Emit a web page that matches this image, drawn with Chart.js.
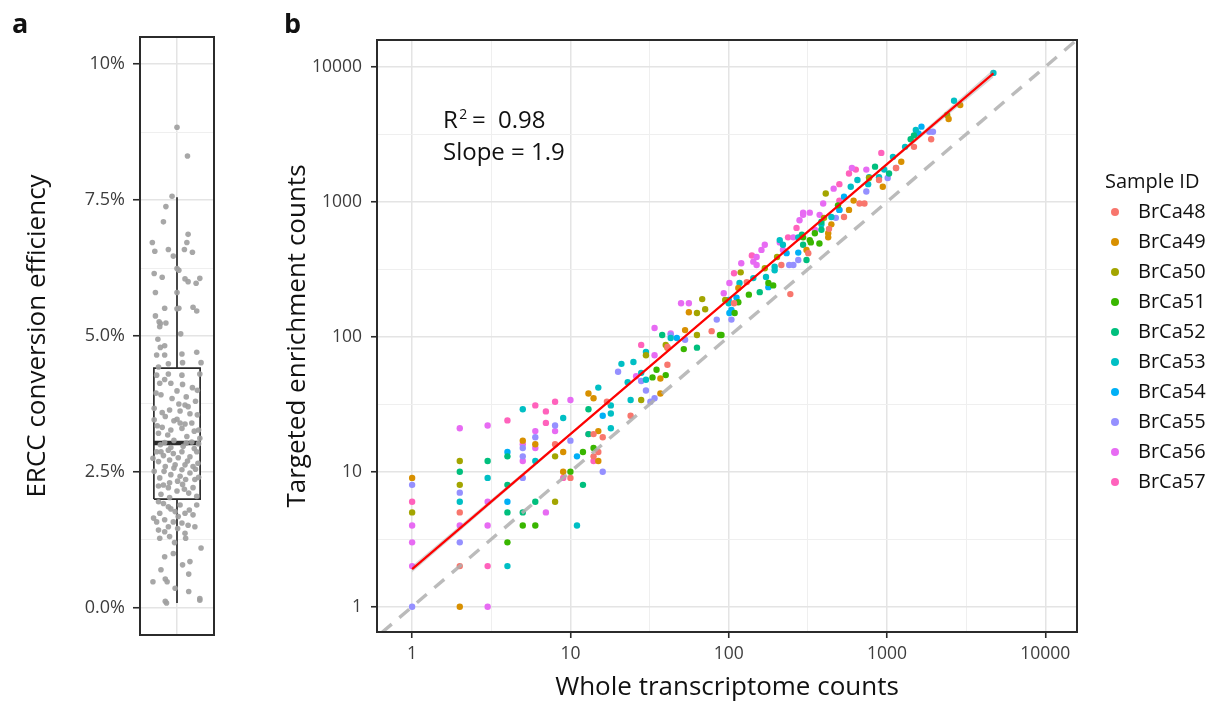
<!DOCTYPE html>
<html>
<head>
<meta charset="utf-8">
<script src="https://cdn.jsdelivr.net/npm/chart.js@4.4.1/dist/chart.umd.min.js"></script>
<style>
  html, body { margin: 0; padding: 0; background: #fff; }
  #wrap { position: relative; width: 1215px; height: 704px; overflow: hidden; }
  #ca { position: absolute; left: 0; top: 0; }
  #cb { position: absolute; left: 230px; top: 0; }
</style>
</head>
<body>
<div id="wrap">
  <canvas id="ca" width="230" height="704"></canvas>
  <canvas id="cb" width="985" height="704"></canvas>
</div>
<script>
// ---------------- panel a: ERCC conversion efficiency ----------------
const effMajorTicks = [0, 2.5, 5, 7.5, 10];
const effMinorTicks = [1.25, 3.75, 6.25, 8.75];
const effTickLabels = ['0.0%', '2.5%', '5.0%', '7.5%', '10%'];
// lower whisker, Q1, median, Q3, upper whisker (percent)
const effBox = [0.09, 2.0, 3.03, 4.41, 7.55];
// per-spike efficiency (percent) and its horizontal jitter
const effPct = [
  8.84, 8.31, 7.57, 7.38, 7.10, 6.87, 6.72, 6.72, 6.56, 6.59, 6.59, 6.54, 6.47, 6.24, 6.21, 6.15,
  6.08, 6.05, 6.00, 5.97, 6.06, 5.80, 5.80, 5.51, 5.50, 5.51, 5.53, 5.46, 5.37, 5.26, 5.23, 5.24,
  5.17, 5.04, 4.94, 4.82, 4.79, 4.65, 4.65, 4.70, 4.67, 4.49, 4.51, 4.51, 4.43,
  4.28, 4.30, 4.28, 4.30, 4.13, 4.13, 4.11, 3.92, 3.99, 3.67, 3.75, 3.73, 3.70, 3.59, 3.52, 3.62,
  3.57, 3.40, 3.46, 3.47, 3.40, 3.38, 3.32, 3.27, 3.27, 3.21, 3.12, 2.75, 2.87, 2.87, 2.90, 2.84,
  2.87, 2.78, 2.87, 3.02, 2.69, 2.60, 2.63, 2.63, 2.60, 2.51, 2.51, 2.45, 2.54, 2.48, 2.39, 2.30,
  2.33, 2.36, 2.36, 2.24, 2.21, 2.27, 2.21, 2.09, 2.15, 2.11,
  4.20, 4.05, 3.85, 3.80, 3.95, 3.64, 3.55, 3.35, 3.30, 3.18, 3.15, 3.08, 3.05, 3.00, 2.97, 2.95,
  2.93, 2.80, 2.76, 2.72, 2.70, 2.66, 2.57, 2.55, 2.42, 2.40, 2.26, 2.18, 2.05, 2.03, 3.03, 3.04,
  3.25, 3.44, 3.88, 4.00,
  1.95, 1.86, 1.89, 1.89, 1.74, 1.77, 1.74, 1.71, 1.58, 1.62, 1.58, 1.56, 1.43, 1.49, 1.46, 1.37,
  1.49, 1.28, 1.31, 1.28, 1.10, 0.94, 1.00, 0.85, 0.79, 0.70, 0.62, 0.48, 0.53, 0.48, 0.36, 0.30,
  0.12, 0.14, 0.09, 0.17, 1.92, 1.80, 1.65, 1.52, 1.68, 1.40, 1.20, 1.82
];
const effJitter = [
  0.00, 0.17, -0.08, -0.18, -0.22, 0.18, -0.40, 0.16, -0.36, -0.14, 0.12, 0.25, -0.06, 0.00, 0.03, -0.37,
  -0.24, 0.13, 0.18, 0.31, 0.37, -0.35, 0.00, -0.20, 0.00, 0.03, 0.26, 0.32, -0.35, -0.29, -0.27, -0.18,
  -0.28, 0.06, -0.31, -0.20, -0.27, -0.33, -0.20, 0.32, 0.08, -0.14, 0.09, 0.39, -0.30,
  -0.33, -0.14, 0.08, 0.37, -0.28, -0.10, 0.09, -0.26, 0.00, -0.37, 0.03, 0.13, 0.18, -0.24, -0.19, 0.05,
  0.21, 0.24, -0.37, 0.00, 0.05, 0.13, -0.24, -0.10, 0.35, -0.30, 0.37, -0.39, -0.33, -0.26, -0.14, -0.06,
  0.08, 0.21, 0.32, 0.35, -0.30, -0.19, -0.03, 0.13, 0.26, -0.37, -0.21, -0.10, 0.08, 0.21, -0.28, -0.12,
  0.01, 0.14, 0.29, -0.30, -0.14, 0.09, 0.26, -0.26, 0.00, 0.19,
  -0.20, 0.25, -0.08, 0.30, -0.34, -0.12, 0.33, -0.32, 0.08, -0.15, 0.16, -0.05, 0.24, -0.27, 0.10, -0.10,
  0.28, -0.22, 0.02, -0.12, 0.17, 0.34, -0.05, 0.30, 0.05, 0.35, -0.22, 0.12, 0.32, -0.12, 0.15, -0.20,
  0.28, -0.05, 0.15, 0.33,
  -0.30, -0.14, 0.05, 0.32, -0.28, -0.03, 0.13, 0.26, -0.33, -0.20, -0.06, 0.08, -0.30, -0.14, 0.01, 0.13,
  0.29, -0.28, -0.12, 0.14, 0.39, -0.20, -0.06, 0.21, 0.09, -0.26, 0.19, -0.39, -0.19, -0.16, -0.03, 0.19,
  -0.19, 0.37, -0.17, 0.37, -0.22, 0.20, -0.38, 0.18, 0.02, -0.20, -0.04, -0.10
];

// ---------------- panel b: targeted vs whole transcriptome counts ----------------
const sampleIds = ['BrCa48', 'BrCa49', 'BrCa50', 'BrCa51', 'BrCa52', 'BrCa53', 'BrCa54', 'BrCa55', 'BrCa56', 'BrCa57'];
const sampleColors = ['#F8766D', '#D89000', '#A3A500', '#39B600', '#00BF7D', '#00BFC4', '#00B0F6', '#9590FF', '#E76BF3', '#FF62BC'];
// [whole transcriptome count, targeted enrichment count]
const brca48 = [[2,5],[2,2],[8,16],[10,9],[14,13],[14,19],[15,14],[16,18],[17,33],[24,26],[41,84],[41,62],[78,110],[108,177],[130,254],[215,340],[245,207],[318,416],[430,630],[535,770],[670,970],[720,970],[890,1450],[1140,1780],[1480,2550],[1900,2900]];
const brca49 = [[1,9],[2,1],[5,17],[6,16],[9,10],[9,14],[13,38],[14,35],[15,12],[15,20],[37,38],[37,49],[41,83],[53,112],[56,152],[115,230],[310,440],[425,585],[425,545],[445,680],[575,870],[615,1020],[940,1290],[1230,1980],[2450,4100],[2900,5200]];
const brca50 = [[1,5],[2,12],[2,8],[8,13],[8,6],[28,34],[30,73],[40,87],[63,103],[63,150],[68,190],[71,160],[95,187],[119,300],[169,322],[202,390],[400,760],[410,1150],[770,1500],[2400,4400]];
const brca51 = [[4,3],[5,4],[6,4],[10,10],[12,14],[14,15],[33,50],[35,57],[40,52],[52,81],[88,103],[90,103],[109,150],[115,180],[134,205],[178,250],[191,240],[295,545],[325,520],[330,500],[350,585],[374,490],[490,940]];
const brca52 = [[2,10],[3,12],[4,13],[4,8],[4,5],[5,5],[6,6],[12,8],[13,29],[13,19],[38,103],[63,83],[157,214],[290,570],[295,480],[310,370],[385,710],[385,620],[840,1820],[1030,1620],[1410,2900],[1480,3100]];
const brca53 = [[2,6],[3,9],[4,2],[5,29],[6,12],[9,25],[11,4],[15,42],[18,27],[18,31],[18,21],[21,63],[23,46],[24,34],[25,65],[28,54],[30,48],[30,77],[43,98],[100,177],[117,250],[143,272],[172,277],[195,311],[195,330],[210,520],[220,480],[275,545],[385,680],[445,770],[590,1290],[650,1450],[760,1350],[770,1520],[890,1520],[960,1730],[1090,2150],[1300,2550],[1520,3400],[2650,5600],[4700,9000]];
const brca54 = [[4,14],[4,6],[11,13],[16,26],[47,98],[100,187],[101,150],[104,158],[112,195],[178,233],[232,416],[275,420],[500,870],[535,1090],[1580,3200],[1650,3600]];
const brca55 = [[1,8],[1,1],[2,7],[2,3],[5,15],[5,13],[5,9],[6,18],[8,22],[10,17],[16,10],[20,55],[28,47],[30,40],[32,33],[34,35],[43,103],[53,95],[84,134],[104,134],[241,340],[256,340],[275,370],[475,760],[500,870],[740,1190],[1010,1500],[1140,1780],[1850,3300],[1950,3300]];
const brca56 = [[1,4],[1,3],[1,2],[2,21],[2,4],[3,22],[3,6],[3,4],[3,1],[5,16],[5,12],[6,20],[6,15],[7,5],[8,20],[10,34],[13,19],[26,51],[34,116],[34,73],[43,106],[50,177],[56,177],[93,210],[101,250],[120,350],[143,360],[150,390],[150,340],[161,440],[169,480],[210,500],[220,440],[256,545],[280,730],[295,830],[295,800],[325,830],[350,620],[375,800],[395,970],[460,1250],[600,1780],[740,1730]];
const brca57 = [[1,6],[3,2],[4,24],[6,31],[7,28],[7,23],[8,33],[9,9],[14,12],[28,87],[108,295],[140,400],[237,545],[268,640],[500,1350],[500,1020],[575,1620],[635,1730],[920,2300]];
const sampleCounts = [brca48, brca49, brca50, brca51, brca52, brca53, brca54, brca55, brca56, brca57];

const countMajorTicks = [1, 10, 100, 1000, 10000];
const countMinorTicks = [3.1623, 31.623, 316.23, 3162.3];
const fitR2 = 0.98;
const fitSlope = 1.9;
const fitRange = [1, 4700];
// confidence band of the fit: x positions and half-width in log10 units
const bandX = [1, 10, 100, 1000, 4700];
const bandHalfLog = [0.024, 0.011, 0.006, 0.011, 0.03];

const FONT = '"Open Sans", "Noto Sans", sans-serif';
const TICK_COLOR = '#3d3d3d';
const GRID_MAJOR = '#e4e4e4';
const GRID_MINOR = '#efefef';

Chart.defaults.font.family = FONT;
Chart.defaults.animation = false;

// panel frame + letter
function framePlugin(letter, letterX) {
  return {
    id: 'frame' + letter,
    afterDraw(chart) {
      const { ctx, chartArea: a } = chart;
      ctx.save();
      ctx.strokeStyle = '#2b2b2b';
      ctx.lineWidth = 2;
      ctx.strokeRect(a.left, a.top, a.right - a.left, a.bottom - a.top);
      ctx.fillStyle = '#111';
      ctx.font = 'bold 27px ' + FONT;
      ctx.textBaseline = 'alphabetic';
      ctx.fillText(letter, letterX, 33);
      ctx.restore();
    }
  };
}

// ---------- panel a chart ----------
const [wLo, q1, med, q3, wHi] = effBox;
const half = 0.375;
const boxLine = { showLine: true, borderColor: '#2b2b2b', borderWidth: 1.7, pointRadius: 0, borderJoinStyle: 'miter', clip: 0 };

new Chart(document.getElementById('ca'), {
  type: 'scatter',
  data: {
    datasets: [
      { label: 'efficiency', data: effPct.map((v, i) => ({ x: effJitter[i], y: v })),
        pointRadius: 2.8, pointBorderWidth: 0, backgroundColor: 'rgba(160,160,160,0.92)', order: 0 },
      Object.assign({ label: 'median', data: [{ x: -half, y: med }, { x: half, y: med }], order: 1 }, boxLine, { borderWidth: 4.5 }),
      Object.assign({ label: 'box', data: [{ x: -half, y: q1 }, { x: half, y: q1 }, { x: half, y: q3 }, { x: -half, y: q3 }, { x: -half, y: q1 }], order: 2 }, boxLine),
      Object.assign({ label: 'upper whisker', data: [{ x: 0, y: q3 }, { x: 0, y: wHi }], order: 2 }, boxLine),
      Object.assign({ label: 'lower whisker', data: [{ x: 0, y: wLo }, { x: 0, y: q1 }], order: 2 }, boxLine),
      { label: 'box fill', data: [{ x: -half, y: q3 }, { x: half, y: q3 }], showLine: true, borderWidth: 0,
        pointRadius: 0, fill: { value: q1 }, backgroundColor: '#ffffff', order: 3 }
    ]
  },
  options: {
    responsive: false,
    events: [],
    layout: { padding: { left: 0, top: 37, right: 16, bottom: 69 } },
    plugins: { legend: { display: false }, tooltip: { enabled: false } },
    scales: {
      x: {
        type: 'linear', min: -0.6, max: 0.6,
        afterBuildTicks: s => { s.ticks = [{ value: 0 }]; },
        ticks: { display: false },
        grid: { color: GRID_MAJOR, lineWidth: 1.5, drawTicks: false },
        border: { display: false },
        afterFit: s => { s.height = 0; }
      },
      y: {
        type: 'linear', min: -0.5, max: 10.5,
        afterBuildTicks: s => {
          s.ticks = effMajorTicks.concat(effMinorTicks).sort((a, b) => a - b).map(v => ({ value: v }));
        },
        ticks: {
          callback: v => { const i = effMajorTicks.indexOf(v); return i >= 0 ? effTickLabels[i] : ''; },
          font: { size: 18 }, color: TICK_COLOR, padding: 8
        },
        grid: {
          color: c => effMajorTicks.includes(c.tick.value) ? GRID_MAJOR : GRID_MINOR,
          lineWidth: c => effMajorTicks.includes(c.tick.value) ? 1.5 : 1,
          tickLength: 7, tickWidth: 1.6,
          tickColor: c => effMajorTicks.includes(c.tick.value) ? '#2b2b2b' : 'rgba(0,0,0,0)'
        },
        border: { display: false },
        title: { display: true, text: 'ERCC conversion efficiency', color: '#111', font: { size: 26 }, padding: { top: 22 } },
        afterFit: s => { s.width = 140; }
      }
    }
  },
  plugins: [framePlugin('a', 12)]
});

// ---------- panel b chart ----------
const annotationPlugin = {
  id: 'fitText',
  afterDraw(chart) {
    const ctx = chart.ctx;
    ctx.save();
    ctx.fillStyle = '#111';
    ctx.textBaseline = 'alphabetic';
    const x0 = 213, y0 = 128;
    ctx.font = '24px ' + FONT;
    ctx.fillText('R', x0, y0);
    const wR = ctx.measureText('R').width;
    ctx.font = '14px ' + FONT;
    ctx.fillText('2', x0 + wR + 1.5, y0 - 9);
    ctx.font = '24px ' + FONT;
    ctx.fillText('=', x0 + 29, y0);
    ctx.fillText(fitR2.toFixed(2), x0 + 55, y0);
    ctx.fillText('Slope = ' + fitSlope, x0, y0 + 32);
    ctx.restore();
  }
};

const legendPlugin = {
  id: 'sampleLegend',
  afterDraw(chart) {
    const ctx = chart.ctx;
    ctx.save();
    ctx.fillStyle = '#111';
    ctx.font = '20px ' + FONT;
    ctx.textBaseline = 'middle';
    ctx.fillText('Sample ID', 875, 182);
    chart.data.datasets.filter(d => d.sample).forEach((d, i) => {
      const y = 212 + i * 30;
      ctx.beginPath();
      ctx.fillStyle = d.backgroundColor;
      ctx.arc(885, y, 4, 0, Math.PI * 2);
      ctx.fill();
      ctx.fillStyle = '#111';
      ctx.fillText(d.label, 908, y);
    });
    ctx.restore();
  }
};

const sampleSets = sampleIds.map((id, i) => ({
  label: id, sample: true,
  data: sampleCounts[i].map(p => ({ x: p[0], y: p[1] })),
  backgroundColor: sampleColors[i], pointRadius: 3.2, pointBorderWidth: 0, order: 3
}));

const fitLine = {
  label: 'fit', data: fitRange.map(x => ({ x, y: fitSlope * x })),
  showLine: true, borderColor: '#ff0000', borderWidth: 2.2, pointRadius: 0, order: 0, clip: 0
};
const bandUpper = {
  label: 'band upper', data: bandX.map((x, i) => ({ x, y: fitSlope * x * Math.pow(10, bandHalfLog[i]) })),
  showLine: true, borderWidth: 0, pointRadius: 0, fill: '+1', backgroundColor: 'rgba(140,140,140,0.35)', order: 1, clip: 0
};
const bandLower = {
  label: 'band lower', data: bandX.map((x, i) => ({ x, y: fitSlope * x / Math.pow(10, bandHalfLog[i]) })),
  showLine: true, borderWidth: 0, pointRadius: 0, order: 1, clip: 0
};
const identityLine = {
  label: 'y = x', data: [{ x: 0.3, y: 0.3 }, { x: 30000, y: 30000 }],
  showLine: true, borderColor: 'rgba(175,175,175,0.85)', borderWidth: 3.4, borderDash: [13, 10],
  pointRadius: 0, order: 2, clip: 0
};

function countAxis(extra) {
  return Object.assign({
    type: 'logarithmic',
    afterBuildTicks: s => {
      s.ticks = countMajorTicks.concat(countMinorTicks).sort((a, b) => a - b).map(v => ({ value: v }));
    },
    ticks: {
      autoSkip: false, maxRotation: 0, minRotation: 0,
      callback: v => countMajorTicks.includes(v) ? String(v) : '',
      font: { size: 17.5 }, color: TICK_COLOR
    },
    grid: {
      color: c => countMajorTicks.includes(c.tick.value) ? GRID_MAJOR : GRID_MINOR,
      lineWidth: c => countMajorTicks.includes(c.tick.value) ? 1.5 : 1,
      tickLength: 6, tickWidth: 1.6,
      tickColor: c => countMajorTicks.includes(c.tick.value) ? '#2b2b2b' : 'rgba(0,0,0,0)'
    },
    border: { display: false }
  }, extra);
}

const xAxis = countAxis({ min: 0.63, max: 15850,
  title: { display: true, text: 'Whole transcriptome counts', color: '#111', font: { size: 26 }, padding: { bottom: 1 } },
  afterFit: s => { s.height = 72; } });
xAxis.ticks = Object.assign({}, xAxis.ticks, { padding: 6 });
const yAxis = countAxis({ min: 0.65, max: 15780,
  title: { display: true, text: 'Targeted enrichment counts', color: '#111', font: { size: 26 }, padding: { top: 52 } },
  afterFit: s => { s.width = 147; } });
yAxis.ticks = Object.assign({}, yAxis.ticks, { padding: 9 });

new Chart(document.getElementById('cb'), {
  type: 'scatter',
  data: { datasets: [fitLine, bandUpper, bandLower, identityLine].concat(sampleSets) },
  options: {
    responsive: false,
    events: [],
    layout: { padding: { left: 0, top: 40, right: 138, bottom: 0 } },
    plugins: { legend: { display: false }, tooltip: { enabled: false } },
    scales: { x: xAxis, y: yAxis }
  },
  plugins: [framePlugin('b', 54), annotationPlugin, legendPlugin]
});
</script>
</body>
</html>
